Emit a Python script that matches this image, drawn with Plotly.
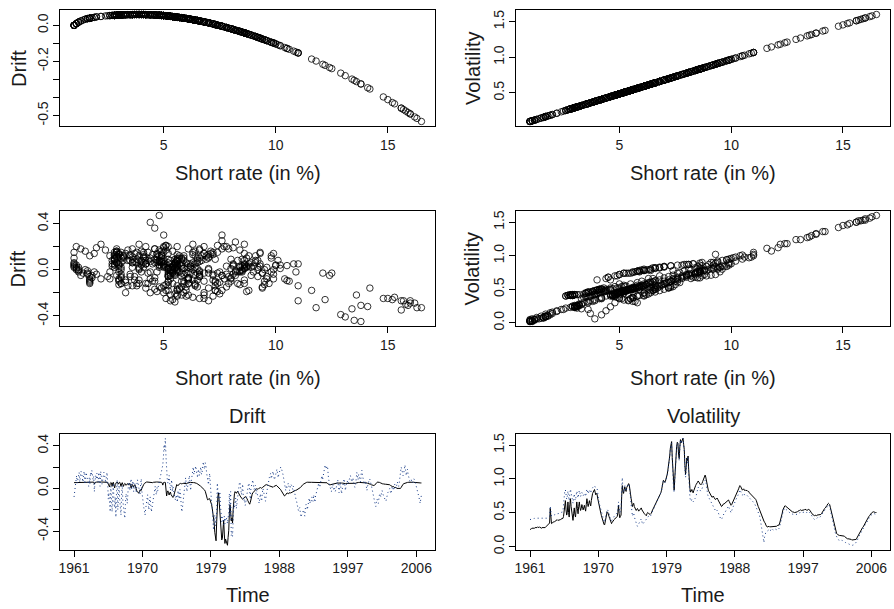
import numpy as np
import plotly.graph_objects as go

# ---------------- data: monthly, Jan 1961 .. Sep 2006 ----------------
# stored as odd months (Jan, Mar, May, Jul, Sep, Nov) and even months (Feb, Apr, ...)
start_year = 1961
months_per_year = 12

short_rate_odd = [
    2.6, 2.7, 2.8, 2.7, 2.9, 2.8,
    3.0, 2.9, 2.9, 2.8, 2.9, 2.8,
    2.9, 3.1, 3.4, 3.5, 5.8, 3.5,
    3.7, 3.8, 3.9, 4.0, 4.0, 4.1,
    4.1, 4.2, 4.3, 5.9, 7.0, 4.8,
    6.8, 4.5, 7.3, 5.3, 4.0, 5.9,
    4.5, 6.8, 5.0, 6.8, 5.5, 6.4,
    5.6, 6.3, 5.4, 7.3, 6.1, 7.0,
    6.2, 7.8, 8.3, 8.7, 7.9, 8.0,
    6.8, 6.0, 5.1, 4.3, 3.5, 3.3,
    4.4, 5.3, 5.0, 4.3, 3.6, 3.7,
    4.0, 4.2, 4.4, 4.6, 6.3, 4.4,
    4.8, 9.3, 8.1, 9.1, 8.4, 9.2,
    9.6, 8.9, 7.3, 6.1, 6.6, 5.8,
    5.5, 5.8, 5.4, 5.6, 5.9, 5.4,
    5.0, 4.9, 4.7, 5.2, 5.0, 4.9,
    5.1, 5.6, 6.1, 6.4, 6.8, 7.2,
    7.6, 7.9, 8.6, 9.8, 10.0, 9.9,
    10.5, 11.6, 12.9, 15.0, 16.0, 11.0,
    8.6, 12.5, 15.3, 15.7, 13.4, 16.3,
    16.0, 16.5, 14.8, 11.0, 13.5, 13.8,
    9.4, 8.3, 8.7, 8.2, 8.9, 9.3,
    9.6, 10.0, 9.7, 9.4, 9.6, 10.2,
    10.8, 10.6, 9.2, 8.6, 8.2, 7.8,
    7.5, 7.7, 7.3, 7.2, 7.4, 7.0,
    6.6, 6.1, 6.2, 6.5, 6.6, 6.8,
    7.0, 7.1, 6.7, 6.3, 6.6, 7.0,
    7.4, 7.8, 8.4, 8.8, 9.3, 9.0,
    8.6, 8.8, 8.5, 8.6, 8.5, 8.4,
    8.1, 8.0, 7.8, 7.5, 7.3, 7.0,
    6.3, 5.9, 5.4, 4.8, 4.4, 3.9,
    3.6, 3.1, 3.0, 3.1, 3.0, 3.1,
    3.1, 3.0, 3.1, 3.1, 3.2, 3.3,
    3.9, 4.6, 5.6, 6.1, 6.2, 6.0,
    5.8, 5.7, 5.5, 5.3, 5.3, 5.2,
    5.2, 5.3, 5.4, 5.5, 5.6, 5.5,
    5.6, 5.6, 5.7, 5.5, 5.6, 5.6,
    5.4, 5.0, 4.8, 4.7, 4.7, 4.8,
    4.9, 4.8, 4.9, 5.2, 5.5, 5.8,
    6.0, 6.3, 6.6, 6.4, 5.6, 4.6,
    3.8, 2.9, 2.2, 1.9, 1.8, 1.7,
    1.7, 1.7, 1.6, 1.5, 1.3, 1.2,
    1.2, 1.1, 1.1, 1.0, 1.0, 1.0,
    1.1, 1.5, 1.9, 2.2, 2.6, 2.9,
    3.2, 3.6, 3.9, 4.2, 4.6, 4.9,
    5.1, 5.3, 5.3, 5.2, 5.2,
]
short_rate_even = [
    2.6, 2.8, 2.7, 2.8, 2.9, 2.9,
    2.9, 3.0, 2.8, 2.9, 2.8, 2.8,
    3.0, 3.2, 3.5, 3.6, 3.6, 3.6,
    3.8, 3.8, 3.9, 4.1, 4.0, 4.1,
    4.2, 4.2, 4.6, 6.6, 5.6, 5.2,
    5.2, 6.4, 6.1, 4.4, 5.0, 4.9,
    5.7, 5.8, 6.1, 6.0, 5.8, 6.1,
    5.9, 5.8, 6.4, 6.6, 6.6, 6.5,
    7.0, 8.1, 8.6, 8.3, 8.1, 7.4,
    6.5, 5.5, 4.7, 3.9, 3.4, 3.8,
    4.9, 5.2, 4.6, 3.9, 3.5, 3.9,
    4.1, 4.3, 4.5, 5.2, 5.0, 4.6,
    7.6, 8.5, 8.7, 8.6, 9.0, 9.4,
    9.4, 8.0, 6.6, 6.4, 6.1, 5.6,
    5.7, 5.6, 5.5, 5.8, 5.6, 5.2,
    5.0, 4.8, 5.0, 5.1, 4.9, 5.0,
    5.4, 5.8, 6.3, 6.6, 7.0, 7.4,
    7.7, 8.2, 9.3, 10.1, 9.8, 10.2,
    11.0, 12.2, 13.8, 15.6, 13.6, 9.2,
    10.4, 14.2, 15.9, 14.1, 15.2, 15.8,
    16.2, 15.6, 12.4, 12.1, 13.1, 11.8,
    8.8, 8.6, 8.4, 8.5, 9.1, 9.5,
    9.8, 9.9, 9.5, 9.5, 9.9, 10.5,
    10.9, 9.9, 8.9, 8.4, 8.0, 7.6,
    7.6, 7.5, 7.2, 7.3, 7.2, 6.8,
    6.3, 6.1, 6.4, 6.5, 6.7, 6.9,
    7.1, 6.9, 6.5, 6.4, 6.8, 7.2,
    7.6, 8.1, 8.6, 9.1, 9.2, 8.8,
    8.7, 8.6, 8.6, 8.5, 8.4, 8.2,
    8.0, 7.9, 7.6, 7.4, 7.2, 6.6,
    6.1, 5.6, 5.1, 4.6, 4.2, 3.7,
    3.3, 3.0, 3.1, 3.0, 3.1, 3.0,
    3.0, 3.0, 3.1, 3.2, 3.2, 3.6,
    4.2, 5.1, 5.9, 6.2, 6.1, 5.9,
    5.8, 5.6, 5.4, 5.3, 5.2, 5.2,
    5.3, 5.3, 5.5, 5.5, 5.5, 5.6,
    5.5, 5.7, 5.6, 5.6, 5.7, 5.5,
    5.2, 4.9, 4.7, 4.8, 4.7, 4.8,
    4.8, 4.9, 5.0, 5.4, 5.6, 5.9,
    6.2, 6.5, 6.5, 6.0, 5.1, 4.2,
    3.3, 2.5, 2.0, 1.8, 1.7, 1.7,
    1.7, 1.6, 1.6, 1.4, 1.2, 1.2,
    1.1, 1.1, 1.0, 1.0, 1.0, 1.0,
    1.3, 1.7, 2.0, 2.4, 2.8, 3.0,
    3.4, 3.7, 4.1, 4.4, 4.7, 5.0,
    5.2, 5.3, 5.2, 5.2,
]

drift_param_odd = [
    0.054, 0.055, 0.055, 0.055, 0.056, 0.055,
    0.057, 0.056, 0.056, 0.055, 0.056, 0.055,
    0.056, 0.057, 0.059, 0.059, 0.042, 0.059,
    0.060, 0.060, 0.060, 0.060, 0.060, 0.060,
    0.060, 0.059, 0.059, 0.040, 0.014, 0.056,
    0.019, 0.058, 0.004, 0.050, 0.060, 0.040,
    0.058, 0.019, 0.054, 0.019, 0.047, 0.029,
    0.045, 0.031, 0.048, 0.004, 0.036, 0.014,
    0.034, -0.012, -0.030, -0.046, -0.016, -0.019,
    0.019, 0.038, 0.053, 0.059, 0.059, 0.058,
    0.058, 0.050, 0.054, 0.059, 0.059, 0.060,
    0.060, 0.059, 0.058, 0.057, 0.031, 0.058,
    0.056, -0.071, -0.023, -0.062, -0.034, -0.067,
    -0.085, -0.054, 0.004, 0.036, 0.024, 0.042,
    0.047, 0.042, 0.048, 0.045, 0.040, 0.048,
    0.054, 0.055, 0.056, 0.051, 0.054, 0.055,
    0.053, 0.045, 0.036, 0.029, 0.019, 0.008,
    -0.005, -0.016, -0.042, -0.094, -0.103, -0.098,
    -0.128, -0.187, -0.265, -0.412, -0.491, -0.153,
    -0.042, -0.240, -0.435, -0.467, -0.298, -0.516,
    -0.491, -0.533, -0.397, -0.153, -0.305, -0.325,
    -0.076, -0.030, -0.046, -0.027, -0.054, -0.071,
    -0.085, -0.103, -0.089, -0.076, -0.085, -0.113,
    -0.143, -0.133, -0.067, -0.042, -0.027, -0.012,
    -0.002, -0.009, 0.004, 0.008, 0.001, 0.014,
    0.024, 0.036, 0.034, 0.027, 0.024, 0.019,
    0.014, 0.011, 0.022, 0.031, 0.024, 0.014,
    0.001, -0.012, -0.034, -0.050, -0.071, -0.058,
    -0.042, -0.050, -0.038, -0.042, -0.038, -0.034,
    -0.023, -0.019, -0.012, -0.002, 0.004, 0.014,
    0.031, 0.040, 0.048, 0.056, 0.058, 0.060,
    0.059, 0.057, 0.057, 0.057, 0.057, 0.057,
    0.057, 0.057, 0.057, 0.057, 0.058, 0.058,
    0.060, 0.057, 0.045, 0.036, 0.034, 0.038,
    0.042, 0.043, 0.047, 0.050, 0.050, 0.051,
    0.051, 0.050, 0.048, 0.047, 0.045, 0.047,
    0.045, 0.045, 0.043, 0.047, 0.045, 0.045,
    0.048, 0.054, 0.056, 0.056, 0.056, 0.056,
    0.055, 0.056, 0.055, 0.051, 0.047, 0.042,
    0.038, 0.031, 0.024, 0.029, 0.045, 0.057,
    0.060, 0.056, 0.049, 0.044, 0.042, 0.039,
    0.039, 0.039, 0.037, 0.034, 0.024, 0.018,
    0.018, 0.009, 0.009, 0.000, 0.000, 0.000,
    0.009, 0.034, 0.044, 0.049, 0.054, 0.056,
    0.058, 0.059, 0.060, 0.059, 0.057, 0.055,
    0.053, 0.050, 0.050, 0.051, 0.051,
]
drift_param_even = [
    0.054, 0.055, 0.055, 0.055, 0.056, 0.056,
    0.056, 0.057, 0.055, 0.056, 0.055, 0.055,
    0.057, 0.058, 0.059, 0.059, 0.059, 0.059,
    0.060, 0.060, 0.060, 0.060, 0.060, 0.060,
    0.059, 0.059, 0.057, 0.024, 0.045, 0.051,
    0.051, 0.029, 0.036, 0.058, 0.054, 0.055,
    0.043, 0.042, 0.036, 0.038, 0.042, 0.036,
    0.040, 0.042, 0.029, 0.024, 0.024, 0.027,
    0.014, -0.023, -0.042, -0.030, -0.023, 0.001,
    0.027, 0.047, 0.056, 0.060, 0.059, 0.060,
    0.055, 0.051, 0.057, 0.060, 0.059, 0.060,
    0.060, 0.059, 0.058, 0.051, 0.054, 0.057,
    -0.005, -0.038, -0.046, -0.042, -0.058, -0.076,
    -0.076, -0.019, 0.024, 0.029, 0.036, 0.045,
    0.043, 0.045, 0.047, 0.042, 0.045, 0.051,
    0.054, 0.056, 0.054, 0.053, 0.055, 0.054,
    0.048, 0.042, 0.031, 0.024, 0.014, 0.001,
    -0.009, -0.027, -0.071, -0.108, -0.094, -0.113,
    -0.153, -0.222, -0.325, -0.459, -0.312, -0.067,
    -0.123, -0.353, -0.483, -0.346, -0.428, -0.475,
    -0.508, -0.459, -0.234, -0.216, -0.279, -0.198,
    -0.050, -0.042, -0.034, -0.038, -0.062, -0.080,
    -0.094, -0.098, -0.080, -0.080, -0.098, -0.128,
    -0.148, -0.098, -0.054, -0.034, -0.019, -0.005,
    -0.005, -0.002, 0.008, 0.004, 0.008, 0.019,
    0.031, 0.036, 0.029, 0.027, 0.022, 0.017,
    0.011, 0.017, 0.027, 0.029, 0.019, 0.008,
    -0.005, -0.023, -0.042, -0.062, -0.067, -0.050,
    -0.046, -0.042, -0.042, -0.038, -0.034, -0.027,
    -0.019, -0.016, -0.005, 0.001, 0.008, 0.024,
    0.036, 0.045, 0.053, 0.057, 0.059, 0.060,
    0.058, 0.057, 0.057, 0.057, 0.057, 0.057,
    0.057, 0.057, 0.057, 0.058, 0.058, 0.059,
    0.059, 0.053, 0.040, 0.034, 0.036, 0.040,
    0.042, 0.045, 0.048, 0.050, 0.051, 0.051,
    0.050, 0.050, 0.047, 0.047, 0.047, 0.045,
    0.047, 0.043, 0.045, 0.045, 0.043, 0.047,
    0.051, 0.055, 0.056, 0.056, 0.056, 0.056,
    0.056, 0.055, 0.054, 0.048, 0.045, 0.040,
    0.034, 0.027, 0.027, 0.038, 0.053, 0.059,
    0.058, 0.053, 0.047, 0.042, 0.039, 0.039,
    0.039, 0.037, 0.037, 0.029, 0.018, 0.018,
    0.009, 0.009, 0.000, 0.000, 0.000, 0.000,
    0.024, 0.039, 0.047, 0.052, 0.055, 0.057,
    0.059, 0.060, 0.060, 0.058, 0.056, 0.054,
    0.051, 0.050, 0.051, 0.051,
]

vol_param_odd = [
    0.252, 0.262, 0.272, 0.262, 0.281, 0.272,
    0.291, 0.281, 0.281, 0.272, 0.281, 0.272,
    0.281, 0.301, 0.330, 0.340, 0.563, 0.340,
    0.359, 0.369, 0.378, 0.388, 0.388, 0.398,
    0.398, 0.407, 0.417, 0.572, 0.679, 0.466,
    0.660, 0.437, 0.708, 0.514, 0.388, 0.572,
    0.437, 0.660, 0.485, 0.660, 0.534, 0.621,
    0.543, 0.611, 0.524, 0.708, 0.592, 0.679,
    0.601, 0.757, 0.805, 0.844, 0.766, 0.776,
    0.660, 0.582, 0.495, 0.417, 0.340, 0.320,
    0.427, 0.514, 0.485, 0.417, 0.349, 0.359,
    0.388, 0.407, 0.427, 0.446, 0.611, 0.427,
    0.466, 0.902, 0.786, 0.883, 0.815, 0.892,
    0.931, 0.863, 0.708, 0.592, 0.640, 0.563,
    0.534, 0.563, 0.524, 0.543, 0.572, 0.524,
    0.485, 0.475, 0.456, 0.504, 0.485, 0.475,
    0.495, 0.543, 0.592, 0.621, 0.660, 0.698,
    0.737, 0.766, 0.834, 0.951, 0.970, 0.960,
    1.019, 1.125, 1.251, 1.455, 1.552, 1.067,
    0.834, 1.213, 1.484, 1.523, 1.300, 1.581,
    1.552, 1.601, 1.436, 1.067, 1.310, 1.339,
    0.912, 0.805, 0.844, 0.795, 0.863, 0.902,
    0.931, 0.970, 0.941, 0.912, 0.931, 0.989,
    1.048, 1.028, 0.892, 0.834, 0.795, 0.757,
    0.728, 0.747, 0.708, 0.698, 0.718, 0.679,
    0.640, 0.592, 0.601, 0.631, 0.640, 0.660,
    0.679, 0.689, 0.650, 0.611, 0.640, 0.679,
    0.718, 0.757, 0.815, 0.854, 0.902, 0.873,
    0.834, 0.854, 0.825, 0.834, 0.825, 0.815,
    0.786, 0.776, 0.757, 0.728, 0.708, 0.679,
    0.611, 0.572, 0.524, 0.466, 0.427, 0.378,
    0.349, 0.301, 0.291, 0.301, 0.291, 0.301,
    0.301, 0.291, 0.301, 0.301, 0.310, 0.320,
    0.378, 0.446, 0.543, 0.592, 0.601, 0.582,
    0.563, 0.553, 0.534, 0.514, 0.514, 0.504,
    0.504, 0.514, 0.524, 0.534, 0.543, 0.534,
    0.543, 0.543, 0.553, 0.534, 0.543, 0.543,
    0.524, 0.485, 0.466, 0.456, 0.456, 0.466,
    0.475, 0.466, 0.475, 0.504, 0.534, 0.563,
    0.582, 0.611, 0.640, 0.621, 0.543, 0.446,
    0.369, 0.281, 0.213, 0.184, 0.175, 0.165,
    0.165, 0.165, 0.155, 0.146, 0.126, 0.116,
    0.116, 0.107, 0.107, 0.097, 0.097, 0.097,
    0.107, 0.146, 0.184, 0.213, 0.252, 0.281,
    0.310, 0.349, 0.378, 0.407, 0.446, 0.475,
    0.495, 0.514, 0.514, 0.504, 0.504,
]
vol_param_even = [
    0.252, 0.272, 0.262, 0.272, 0.281, 0.281,
    0.281, 0.291, 0.272, 0.281, 0.272, 0.272,
    0.291, 0.310, 0.340, 0.349, 0.349, 0.349,
    0.369, 0.369, 0.378, 0.398, 0.388, 0.398,
    0.407, 0.407, 0.446, 0.640, 0.543, 0.504,
    0.504, 0.621, 0.592, 0.427, 0.485, 0.475,
    0.553, 0.563, 0.592, 0.582, 0.563, 0.592,
    0.572, 0.563, 0.621, 0.640, 0.640, 0.631,
    0.679, 0.786, 0.834, 0.805, 0.786, 0.718,
    0.631, 0.534, 0.456, 0.378, 0.330, 0.369,
    0.475, 0.504, 0.446, 0.378, 0.340, 0.378,
    0.398, 0.417, 0.437, 0.504, 0.485, 0.446,
    0.737, 0.825, 0.844, 0.834, 0.873, 0.912,
    0.912, 0.776, 0.640, 0.621, 0.592, 0.543,
    0.553, 0.543, 0.534, 0.563, 0.543, 0.504,
    0.485, 0.466, 0.485, 0.495, 0.475, 0.485,
    0.524, 0.563, 0.611, 0.640, 0.679, 0.718,
    0.747, 0.795, 0.902, 0.980, 0.951, 0.989,
    1.067, 1.183, 1.339, 1.513, 1.319, 0.892,
    1.009, 1.377, 1.542, 1.368, 1.474, 1.533,
    1.571, 1.513, 1.203, 1.174, 1.271, 1.145,
    0.854, 0.834, 0.815, 0.825, 0.883, 0.922,
    0.951, 0.960, 0.922, 0.922, 0.960, 1.019,
    1.057, 0.960, 0.863, 0.815, 0.776, 0.737,
    0.737, 0.728, 0.698, 0.708, 0.698, 0.660,
    0.611, 0.592, 0.621, 0.631, 0.650, 0.669,
    0.689, 0.669, 0.631, 0.621, 0.660, 0.698,
    0.737, 0.786, 0.834, 0.883, 0.892, 0.854,
    0.844, 0.834, 0.834, 0.825, 0.815, 0.795,
    0.776, 0.766, 0.737, 0.718, 0.698, 0.640,
    0.592, 0.543, 0.495, 0.446, 0.407, 0.359,
    0.320, 0.291, 0.301, 0.291, 0.301, 0.291,
    0.291, 0.291, 0.301, 0.310, 0.310, 0.349,
    0.407, 0.495, 0.572, 0.601, 0.592, 0.572,
    0.563, 0.543, 0.524, 0.514, 0.504, 0.504,
    0.514, 0.514, 0.534, 0.534, 0.534, 0.543,
    0.534, 0.553, 0.543, 0.543, 0.553, 0.534,
    0.504, 0.475, 0.456, 0.466, 0.456, 0.466,
    0.466, 0.475, 0.485, 0.524, 0.543, 0.572,
    0.601, 0.631, 0.631, 0.582, 0.495, 0.407,
    0.320, 0.243, 0.194, 0.175, 0.165, 0.165,
    0.165, 0.155, 0.155, 0.136, 0.116, 0.116,
    0.107, 0.107, 0.097, 0.097, 0.097, 0.097,
    0.126, 0.165, 0.194, 0.233, 0.272, 0.291,
    0.330, 0.359, 0.398, 0.427, 0.456, 0.485,
    0.504, 0.514, 0.504, 0.504,
]

drift_np_odd = [
    -0.08, 0.03, 0.12, 0.08, 0.15, 0.10,
    0.14, 0.06, 0.16, 0.09, 0.12, 0.05,
    0.10, 0.15, 0.17, 0.08, -0.03, 0.12,
    0.14, 0.06, 0.12, 0.16, 0.04, 0.10,
    0.13, 0.05, 0.15, -0.10, -0.16, 0.02,
    -0.22, 0.05, -0.18, -0.27, 0.08, -0.12,
    -0.10, -0.25, 0.03, -0.20, -0.28, -0.05,
    -0.14, 0.06, -0.02, 0.09, 0.02, -0.03,
    0.05, -0.04, 0.08, 0.02, -0.06, 0.09,
    -0.10, -0.18, -0.25, -0.12, -0.06, -0.20,
    -0.08, -0.22, -0.14, -0.03, 0.02, -0.06,
    -0.02, 0.05, 0.10, 0.18, 0.22, 0.41,
    0.47, 0.14, 0.05, 0.12, -0.02, 0.08,
    0.02, -0.05, -0.11, -0.08, -0.02, -0.10,
    -0.05, -0.22, -0.12, 0.02, 0.10, -0.03,
    0.05, 0.12, -0.02, 0.14, 0.20, 0.16,
    0.21, 0.13, 0.18, 0.12, 0.20, 0.15,
    0.25, 0.18, 0.22, 0.12, 0.035, 0.14,
    -0.095, -0.18, -0.39, -0.25, -0.29, 0.05,
    -0.12, -0.03, -0.24, -0.27, -0.34, -0.33,
    -0.27, -0.33, -0.25, -0.27, -0.44, -0.45,
    -0.15, -0.12, -0.19, -0.05, 0.02, 0.05,
    -0.06, 0.04, -0.12, -0.16, -0.08, 0.01,
    0.05, -0.10, 0.02, 0.08, -0.01, 0.03,
    -0.02, -0.08, -0.14, -0.05, -0.12, 0.00,
    -0.06, -0.12, -0.03, 0.06, 0.10, 0.14,
    0.11, 0.16, 0.08, 0.13, 0.18, 0.10,
    0.15, 0.20, 0.17, 0.12, 0.03, -0.02,
    0.01, 0.05, -0.02, 0.04, 0.00, 0.02,
    -0.04, -0.10, -0.15, -0.21, -0.18, -0.27,
    -0.24, -0.20, -0.26, -0.15, -0.20, -0.12,
    -0.14, -0.12, -0.10, -0.06, -0.13, -0.04,
    0.00, 0.05, 0.02, 0.10, 0.08, 0.14,
    0.22, 0.18, 0.20, 0.05, 0.01, -0.03,
    0.04, -0.02, -0.03, 0.02, 0.08, -0.04,
    0.06, -0.05, 0.03, 0.09, -0.02, 0.05,
    0.04, 0.08, 0.12, 0.06, 0.10, 0.03,
    0.02, 0.15, 0.08, 0.11, 0.06, 0.17,
    0.10, 0.04, 0.07, -0.02, 0.05, 0.09,
    0.06, 0.00, -0.05, -0.12, -0.17, -0.10,
    -0.14, -0.05, -0.08, -0.02, -0.07, -0.10,
    -0.12, -0.06, -0.03, 0.00, -0.05, 0.02,
    -0.02, 0.04, 0.00, 0.06, 0.02, 0.10,
    0.20, 0.16, 0.14, 0.22, 0.12, 0.18,
    0.10, 0.06, 0.08, 0.05, 0.09, 0.07,
    0.02, -0.03, -0.08, -0.14, -0.06,
]
drift_np_even = [
    -0.02, 0.09, 0.05, 0.13, 0.06, 0.16,
    0.11, 0.13, 0.04, 0.15, 0.08, 0.02,
    0.04, 0.12, 0.13, 0.11, 0.06, 0.09,
    0.09, 0.15, 0.02, 0.11, 0.07, 0.15,
    0.08, 0.11, 0.06, -0.04, -0.22, -0.06,
    -0.05, -0.14, -0.08, -0.02, -0.20, 0.03,
    -0.17, -0.06, -0.12, -0.23, -0.15, -0.09,
    -0.04, 0.03, 0.05, -0.01, 0.07, 0.01,
    0.01, 0.03, 0.05, -0.02, 0.04, -0.03,
    -0.15, -0.21, -0.19, -0.09, -0.14, -0.12,
    -0.16, -0.18, -0.07, 0.00, -0.04, 0.01,
    0.02, 0.08, 0.13, 0.20, 0.30, 0.36,
    0.30, 0.09, 0.10, 0.04, 0.03, -0.03,
    -0.03, -0.08, -0.06, -0.13, -0.07, -0.01,
    -0.16, -0.18, -0.04, 0.06, 0.04, 0.01,
    0.09, 0.04, 0.07, 0.17, 0.13, 0.19,
    0.16, 0.10, 0.15, 0.17, 0.13, 0.21,
    0.20, 0.24, 0.15, 0.08, 0.10, 0.04,
    -0.14, -0.26, -0.31, -0.35, -0.22, -0.06,
    -0.08, -0.16, -0.31, -0.32, -0.26, -0.30,
    -0.29, -0.27, -0.05, -0.03, -0.41, -0.33,
    -0.18, -0.09, -0.13, -0.01, 0.06, 0.00,
    -0.02, -0.08, -0.10, -0.13, -0.04, 0.035,
    -0.02, 0.00, 0.06, 0.03, 0.01, -0.05,
    -0.05, -0.11, -0.09, -0.10, -0.04, -0.03,
    -0.09, -0.07, 0.02, 0.08, 0.12, 0.09,
    0.14, 0.12, 0.10, 0.16, 0.14, 0.13,
    0.18, 0.19, 0.14, 0.08, 0.00, 0.03,
    0.03, 0.02, 0.01, 0.03, -0.01, -0.02,
    -0.07, -0.12, -0.18, -0.19, -0.23, -0.25,
    -0.22, -0.23, -0.18, -0.17, -0.16, -0.09,
    -0.11, -0.08, -0.12, -0.09, -0.07, -0.02,
    0.03, 0.01, 0.06, 0.12, 0.11, 0.18,
    0.20, 0.21, 0.12, 0.03, -0.02, 0.01,
    0.01, 0.00, -0.01, 0.05, 0.02, 0.01,
    0.00, -0.01, 0.06, 0.04, 0.02, 0.07,
    0.06, 0.10, 0.09, 0.08, 0.05, 0.01,
    0.09, 0.12, 0.13, 0.07, 0.14, 0.12,
    0.07, 0.06, 0.02, 0.02, 0.07, 0.08,
    0.03, -0.03, -0.09, -0.15, -0.13, -0.12,
    -0.09, -0.06, -0.04, -0.05, -0.09, -0.11,
    -0.08, -0.04, -0.01, -0.03, -0.01, 0.00,
    0.01, 0.02, 0.03, 0.04, 0.05, 0.15,
    0.18, 0.12, 0.19, 0.17, 0.15, 0.13,
    0.08, 0.07, 0.06, 0.07, 0.08, 0.04,
    0.00, -0.05, -0.11, -0.10,
]

vol_np_odd = [
    0.40, 0.41, 0.41, 0.41, 0.42, 0.41,
    0.42, 0.41, 0.41, 0.41, 0.41, 0.41,
    0.41, 0.42, 0.43, 0.44, 0.60, 0.45,
    0.46, 0.47, 0.48, 0.48, 0.49, 0.49,
    0.50, 0.50, 0.52, 0.76, 0.84, 0.70,
    0.82, 0.68, 0.85, 0.74, 0.64, 0.78,
    0.68, 0.82, 0.72, 0.83, 0.74, 0.80,
    0.75, 0.79, 0.74, 0.85, 0.78, 0.84,
    0.79, 0.86, 0.88, 0.90, 0.87, 0.87,
    0.70, 0.62, 0.54, 0.48, 0.40, 0.36,
    0.47, 0.55, 0.52, 0.46, 0.39, 0.40,
    0.44, 0.46, 0.48, 0.50, 0.66, 0.50,
    0.54, 1.02, 0.80, 0.90, 0.82, 0.90,
    0.93, 0.84, 0.62, 0.45, 0.50, 0.40,
    0.36, 0.30, 0.34, 0.38, 0.41, 0.33,
    0.36, 0.38, 0.40, 0.44, 0.45, 0.44,
    0.48, 0.53, 0.58, 0.61, 0.64, 0.69,
    0.74, 0.77, 0.82, 0.94, 0.96, 0.95,
    1.01, 1.11, 1.24, 1.45, 1.53, 1.00,
    0.80, 1.18, 1.48, 1.52, 1.27, 1.58,
    1.55, 1.60, 1.42, 1.02, 1.28, 1.33,
    0.80, 0.68, 0.70, 0.66, 0.70, 0.72,
    0.80, 0.88, 0.84, 0.82, 0.85, 0.92,
    0.97, 0.98, 0.80, 0.74, 0.70, 0.66,
    0.62, 0.60, 0.55, 0.52, 0.54, 0.50,
    0.46, 0.40, 0.42, 0.48, 0.50, 0.54,
    0.58, 0.60, 0.55, 0.50, 0.56, 0.62,
    0.66, 0.70, 0.75, 0.78, 0.84, 0.80,
    0.76, 0.79, 0.76, 0.77, 0.75, 0.74,
    0.72, 0.70, 0.68, 0.65, 0.62, 0.58,
    0.54, 0.50, 0.42, 0.30, 0.18, 0.06,
    0.20, 0.22, 0.24, 0.25, 0.23, 0.26,
    0.25, 0.24, 0.26, 0.25, 0.27, 0.27,
    0.33, 0.42, 0.52, 0.56, 0.57, 0.54,
    0.52, 0.51, 0.50, 0.48, 0.48, 0.47,
    0.47, 0.48, 0.49, 0.50, 0.51, 0.50,
    0.51, 0.51, 0.52, 0.50, 0.51, 0.51,
    0.49, 0.45, 0.42, 0.40, 0.41, 0.42,
    0.44, 0.43, 0.45, 0.48, 0.51, 0.54,
    0.56, 0.59, 0.62, 0.60, 0.50, 0.40,
    0.32, 0.24, 0.17, 0.12, 0.10, 0.09,
    0.10, 0.09, 0.08, 0.07, 0.06, 0.05,
    0.04, 0.03, 0.02, 0.02, 0.03, 0.04,
    0.06, 0.10, 0.15, 0.18, 0.22, 0.25,
    0.28, 0.32, 0.35, 0.38, 0.42, 0.45,
    0.47, 0.49, 0.49, 0.48, 0.48,
]
vol_np_even = [
    0.40, 0.41, 0.41, 0.42, 0.41, 0.42,
    0.41, 0.42, 0.41, 0.41, 0.41, 0.41,
    0.42, 0.42, 0.44, 0.45, 0.46, 0.46,
    0.46, 0.47, 0.48, 0.49, 0.49, 0.50,
    0.50, 0.51, 0.64, 0.82, 0.76, 0.74,
    0.74, 0.78, 0.80, 0.66, 0.72, 0.70,
    0.76, 0.77, 0.78, 0.79, 0.77, 0.78,
    0.77, 0.77, 0.80, 0.82, 0.81, 0.82,
    0.83, 0.87, 0.89, 0.88, 0.87, 0.78,
    0.66, 0.58, 0.51, 0.44, 0.38, 0.42,
    0.52, 0.54, 0.49, 0.42, 0.38, 0.42,
    0.45, 0.47, 0.49, 0.56, 0.58, 0.52,
    0.86, 0.84, 0.85, 0.86, 0.87, 0.92,
    0.90, 0.72, 0.52, 0.48, 0.44, 0.38,
    0.32, 0.32, 0.36, 0.40, 0.37, 0.34,
    0.37, 0.39, 0.42, 0.45, 0.44, 0.46,
    0.50, 0.56, 0.60, 0.63, 0.67, 0.71,
    0.75, 0.79, 0.89, 0.97, 0.94, 0.98,
    1.05, 1.17, 1.32, 1.50, 1.30, 0.86,
    1.00, 1.36, 1.53, 1.36, 1.46, 1.52,
    1.56, 1.50, 1.18, 1.12, 1.24, 1.07,
    0.72, 0.67, 0.68, 0.67, 0.71, 0.76,
    0.84, 0.86, 0.83, 0.83, 0.88, 0.95,
    0.98, 0.90, 0.77, 0.72, 0.68, 0.64,
    0.61, 0.57, 0.53, 0.53, 0.52, 0.48,
    0.43, 0.41, 0.45, 0.49, 0.52, 0.56,
    0.59, 0.57, 0.52, 0.53, 0.59, 0.64,
    0.68, 0.73, 0.76, 0.81, 0.82, 0.78,
    0.78, 0.77, 0.76, 0.76, 0.74, 0.73,
    0.71, 0.69, 0.66, 0.64, 0.60, 0.56,
    0.52, 0.46, 0.36, 0.24, 0.12, 0.14,
    0.21, 0.23, 0.24, 0.24, 0.25, 0.24,
    0.24, 0.25, 0.25, 0.26, 0.26, 0.30,
    0.37, 0.47, 0.54, 0.57, 0.55, 0.53,
    0.52, 0.50, 0.49, 0.48, 0.47, 0.47,
    0.47, 0.48, 0.50, 0.50, 0.50, 0.51,
    0.50, 0.52, 0.51, 0.51, 0.52, 0.50,
    0.47, 0.43, 0.41, 0.41, 0.41, 0.43,
    0.43, 0.44, 0.46, 0.50, 0.52, 0.55,
    0.57, 0.61, 0.61, 0.55, 0.45, 0.36,
    0.28, 0.20, 0.14, 0.11, 0.09, 0.10,
    0.10, 0.08, 0.07, 0.06, 0.05, 0.05,
    0.03, 0.03, 0.02, 0.02, 0.03, 0.05,
    0.08, 0.13, 0.16, 0.20, 0.23, 0.26,
    0.30, 0.33, 0.36, 0.40, 0.43, 0.46,
    0.48, 0.49, 0.48, 0.48,
]

year_ticks = [1961, 1970, 1979, 1988, 1997, 2006]
rate_ticks = [5, 10, 15]


def interleave(odd, even):
    out = []
    for i, v in enumerate(odd):
        out.append(v)
        if i < len(even):
            out.append(even[i])
    return out


short_rate = interleave(short_rate_odd, short_rate_even)
drift_param = interleave(drift_param_odd, drift_param_even)
vol_param = interleave(vol_param_odd, vol_param_even)
drift_np = interleave(drift_np_odd, drift_np_even)
vol_np = interleave(vol_np_odd, vol_np_even)
time = start_year + np.arange(len(short_rate)) / months_per_year

# ---------------- layout helpers ----------------
W, H = 894, 609
FONT = "Liberation Sans, Arial, Helvetica, sans-serif"
TXT = "#1a1a1a"


def px_x(p):
    return p / W


def px_y(p):
    return 1 - p / H


def rrange(*seqs):
    vals = np.concatenate([np.asarray(s, float) for s in seqs])
    lo, hi = vals.min(), vals.max()
    d = 0.04 * (hi - lo)
    return [lo - d, hi + d]


colL = [px_x(58.3), px_x(434.3)]
colR = [px_x(515.3), px_x(890.3)]
rows = [[px_y(126), px_y(9.3)], [px_y(328), px_y(212.3)], [px_y(554), px_y(437.3)]]

base_axis = dict(
    showline=True, mirror=True, linecolor="black", linewidth=1,
    ticks="outside", ticklen=6, tickwidth=1, tickcolor="black",
    showgrid=False, zeroline=False,
    tickfont=dict(family=FONT, size=14, color=TXT),
)

fig = go.Figure()
marker = dict(symbol="circle-open", size=6.5, color="black", line=dict(width=0.8, color="black"))

fig.add_trace(go.Scatter(x=short_rate, y=drift_param, mode="markers", marker=marker, xaxis="x", yaxis="y"))
fig.add_trace(go.Scatter(x=short_rate, y=vol_param, mode="markers", marker=marker, xaxis="x2", yaxis="y2"))
fig.add_trace(go.Scatter(x=short_rate, y=drift_np, mode="markers", marker=marker, xaxis="x3", yaxis="y3"))
fig.add_trace(go.Scatter(x=short_rate, y=vol_np, mode="markers", marker=marker, xaxis="x4", yaxis="y4"))

solid = dict(color="black", width=1)
dotted = dict(color="#163a86", width=1, dash="1px,3px")
fig.add_trace(go.Scatter(x=time, y=drift_param, mode="lines", line=solid, xaxis="x5", yaxis="y5"))
fig.add_trace(go.Scatter(x=time, y=drift_np, mode="lines", line=dotted, xaxis="x5", yaxis="y5"))
fig.add_trace(go.Scatter(x=time, y=vol_param, mode="lines", line=solid, xaxis="x6", yaxis="y6"))
fig.add_trace(go.Scatter(x=time, y=vol_np, mode="lines", line=dotted, xaxis="x6", yaxis="y6"))

xr_rate = rrange(short_rate)
xr_time = rrange(time)


def xax(domain, anchor, rng, ticks):
    return dict(base_axis, domain=domain, anchor=anchor, range=rng,
                tickmode="array", tickvals=ticks, ticktext=[str(t) for t in ticks])


def yax(domain, anchor, rng, vals, labels):
    return dict(base_axis, domain=domain, anchor=anchor, range=rng, tickangle=-90,
                tickmode="array", tickvals=vals, ticktext=labels)


layout = dict(
    width=W, height=H, showlegend=False,
    margin=dict(l=0, r=0, t=0, b=0),
    paper_bgcolor="white", plot_bgcolor="white",
    font=dict(family=FONT, color=TXT),
    xaxis=xax(colL, "y", xr_rate, rate_ticks),
    yaxis=yax(rows[0], "x", rrange(drift_param), [0.0, -0.1, -0.2, -0.3, -0.4, -0.5],
              ["0.0", "", "-0.2", "", "", "-0.5"]),
    xaxis2=xax(colR, "y2", xr_rate, rate_ticks),
    yaxis2=yax(rows[0], "x2", rrange(vol_param), [0.5, 1.0, 1.5], ["0.5", "1.0", "1.5"]),
    xaxis3=xax(colL, "y3", xr_rate, rate_ticks),
    yaxis3=yax(rows[1], "x3", rrange(drift_np), [0.4, 0.2, 0.0, -0.2, -0.4],
               ["0.4", "", "0.0", "", "-0.4"]),
    xaxis4=xax(colR, "y4", xr_rate, rate_ticks),
    yaxis4=yax(rows[1], "x4", rrange(vol_np), [0.0, 0.5, 1.0, 1.5], ["0.0", "0.5", "1.0", "1.5"]),
    xaxis5=xax(colL, "y5", xr_time, year_ticks),
    yaxis5=yax(rows[2], "x5", rrange(drift_param, drift_np), [0.4, 0.2, 0.0, -0.2, -0.4],
               ["0.4", "", "0.0", "", "-0.4"]),
    xaxis6=xax(colR, "y6", xr_time, year_ticks),
    yaxis6=yax(rows[2], "x6", rrange(vol_param, vol_np), [0.0, 0.5, 1.0, 1.5],
               ["0.0", "0.5", "1.0", "1.5"]),
)

cxL = px_x((58.3 + 434.3) / 2)
cxR = px_x((515.3 + 890.3) / 2)
ann = []


def add_text(text, x, y, angle=0):
    ann.append(dict(text=text, x=x, y=y, xref="paper", yref="paper", showarrow=False,
                    xanchor="center", yanchor="middle", textangle=angle,
                    font=dict(family=FONT, size=20, color=TXT)))


for cx in (cxL, cxR):
    add_text("Short rate (in %)", cx, px_y(174))
    add_text("Short rate (in %)", cx, px_y(381))
    add_text("Time", cx, px_y(600))
add_text("Drift", cxL, px_y(419))
add_text("Volatility", cxR, px_y(419))
add_text("Drift", px_x(17), px_y((9.3 + 126) / 2), -90)
add_text("Volatility", px_x(472), px_y((9.3 + 126) / 2), -90)
add_text("Drift", px_x(17), px_y((212.3 + 328) / 2), -90)
add_text("Volatility", px_x(472), px_y((212.3 + 328) / 2), -90)

layout["annotations"] = ann
fig.update_layout(**layout)
fig.write_html(
    "out.html",
    config={"displayModeBar": False},
    post_script="document.body.style.margin='0px';document.body.style.overflow='hidden';",
)
